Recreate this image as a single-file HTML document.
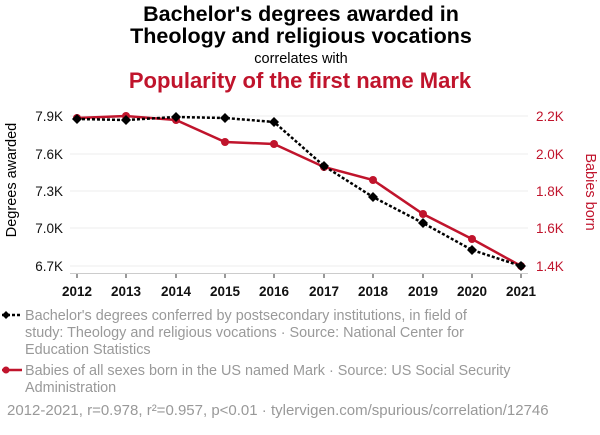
<!DOCTYPE html>
<html><head><style>
body{margin:0;background:#fff;width:600px;height:430px;overflow:hidden;font-family:"Liberation Sans",sans-serif}
</style></head><body>
<svg width="600" height="430" xmlns="http://www.w3.org/2000/svg" font-family="Liberation Sans, sans-serif">
<text x="301" y="21" text-anchor="middle" font-size="21.5" font-weight="bold" fill="#000">Bachelor's degrees awarded in</text>
<text x="301" y="43" text-anchor="middle" font-size="21.5" font-weight="bold" fill="#000">Theology and religious vocations</text>
<text x="301" y="63" text-anchor="middle" font-size="14.5" fill="#000">correlates with</text>
<text x="300" y="88" text-anchor="middle" font-size="22" font-weight="bold" fill="#c0142c">Popularity of the first name Mark</text>
<g stroke="#eee" stroke-width="1">
<line x1="70" x2="528" y1="116" y2="116"/><line x1="70" x2="528" y1="154" y2="154"/>
<line x1="70" x2="528" y1="191" y2="191"/><line x1="70" x2="528" y1="228" y2="228"/>
<line x1="70" x2="528" y1="266" y2="266"/>
</g>
<line x1="70" x2="528" y1="273.5" y2="273.5" stroke="#ccc"/>
<g stroke="#333"><line x1="77" x2="77" y1="274" y2="278"/><line x1="126" x2="126" y1="274" y2="278"/><line x1="176" x2="176" y1="274" y2="278"/><line x1="225" x2="225" y1="274" y2="278"/><line x1="274" x2="274" y1="274" y2="278"/><line x1="324" x2="324" y1="274" y2="278"/><line x1="373" x2="373" y1="274" y2="278"/><line x1="423" x2="423" y1="274" y2="278"/><line x1="472" x2="472" y1="274" y2="278"/><line x1="521" x2="521" y1="274" y2="278"/></g>
<g font-size="13.5" font-weight="bold" text-anchor="middle" fill="#111">
<text x="77" y="296">2012</text><text x="126" y="296">2013</text><text x="176" y="296">2014</text><text x="225" y="296">2015</text><text x="274" y="296">2016</text><text x="324" y="296">2017</text><text x="373" y="296">2018</text><text x="423" y="296">2019</text><text x="472" y="296">2020</text><text x="521" y="296">2021</text>
</g>
<g font-size="13.5" text-anchor="end" fill="#111">
<text x="63" y="121">7.9K</text><text x="63" y="159">7.6K</text><text x="63" y="196">7.3K</text><text x="63" y="233">7.0K</text><text x="63" y="271">6.7K</text>
</g>
<g font-size="13.5" fill="#c0142c">
<text x="536" y="121">2.2K</text><text x="536" y="159">2.0K</text><text x="536" y="196">1.8K</text><text x="536" y="233">1.6K</text><text x="536" y="271">1.4K</text>
</g>
<text transform="translate(16,180) rotate(-90)" text-anchor="middle" font-size="14.5" fill="#000">Degrees awarded</text>
<text transform="translate(586,192) rotate(90)" text-anchor="middle" font-size="14.5" fill="#c0142c">Babies born</text>
<polyline fill="none" stroke="#c0142c" stroke-width="2.5" points="77,118 126,116 176,120 225,142 274,144 324,167 373,180 423,214 472,239 521,266"/>
<g fill="#c0142c"><circle cx="77" cy="118" r="4"/><circle cx="126" cy="116" r="4"/><circle cx="176" cy="120" r="4"/><circle cx="225" cy="142" r="4"/><circle cx="274" cy="144" r="4"/><circle cx="324" cy="167" r="4"/><circle cx="373" cy="180" r="4"/><circle cx="423" cy="214" r="4"/><circle cx="472" cy="239" r="4"/><circle cx="521" cy="266" r="4"/></g>
<polyline fill="none" stroke="#000" stroke-width="2.5" stroke-dasharray="3,2" points="77,119 126,120 176,117 225,118 274,122 324,166 373,197 423,223 472,250 521,266"/>
<g fill="#000">
<path d="M77,114 l5,5 -5,5 -5,-5z"/><path d="M126,115 l5,5 -5,5 -5,-5z"/><path d="M176,112 l5,5 -5,5 -5,-5z"/><path d="M225,113 l5,5 -5,5 -5,-5z"/><path d="M274,117 l5,5 -5,5 -5,-5z"/><path d="M324,161 l5,5 -5,5 -5,-5z"/><path d="M373,192 l5,5 -5,5 -5,-5z"/><path d="M423,218 l5,5 -5,5 -5,-5z"/><path d="M472,245 l5,5 -5,5 -5,-5z"/><path d="M521,261 l5,5 -5,5 -5,-5z"/>
</g>
<line x1="2" x2="22" y1="315" y2="315" stroke="#000" stroke-width="2.5" stroke-dasharray="3,2"/>
<path d="M6,311 l4,4 -4,4 -4,-4z" fill="#000"/>
<g font-size="14.4" fill="#999">
<text x="25" y="320">Bachelor's degrees conferred by postsecondary institutions, in field of</text>
<text x="25" y="337">study: Theology and religious vocations · Source: National Center for</text>
<text x="25" y="354">Education Statistics</text>
<text x="25" y="375">Babies of all sexes born in the US named Mark · Source: US Social Security</text>
<text x="25" y="392">Administration</text>
</g>
<text x="7" y="415" font-size="15" fill="#999">2012-2021, r=0.978, r²=0.957, p&lt;0.01 · tylervigen.com/spurious/correlation/12746</text>
<line x1="2" x2="22" y1="370" y2="370" stroke="#c0142c" stroke-width="2.5"/>
<circle cx="6" cy="370" r="3.5" fill="#c0142c"/>
</svg>
</body></html>
